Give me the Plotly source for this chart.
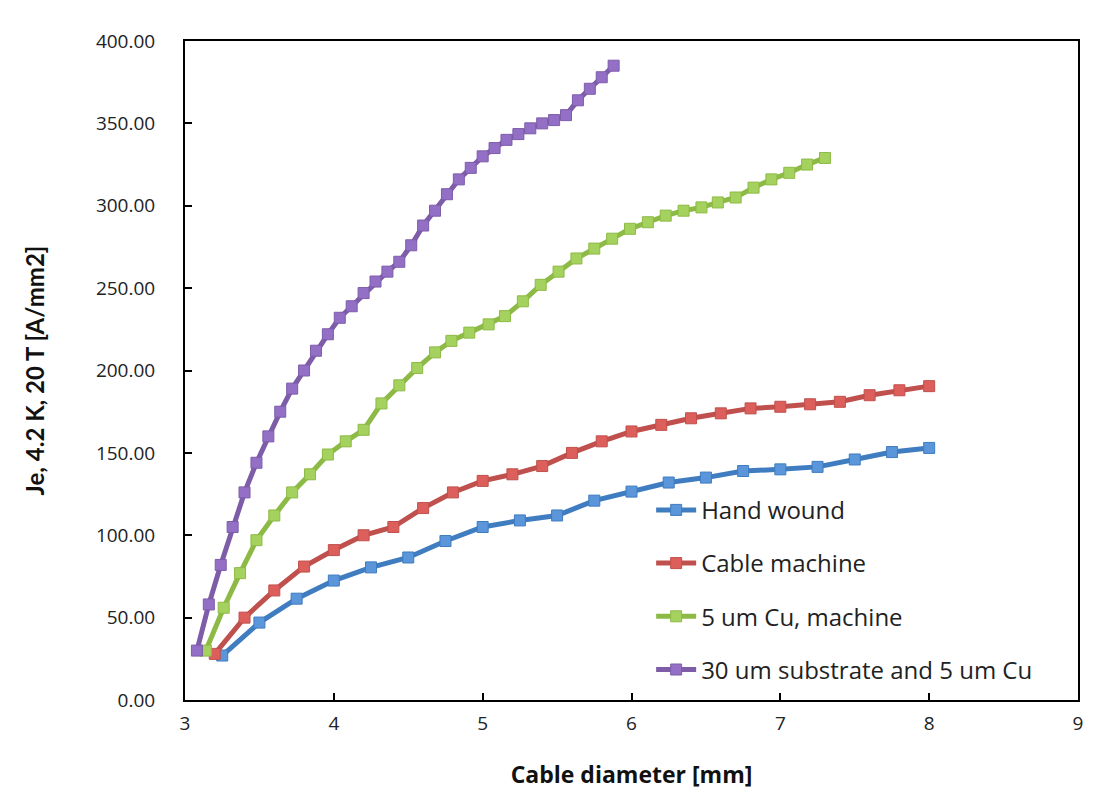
import plotly.graph_objects as go

# ---- data ----
hand_x = [3.25, 3.50, 3.75, 4.00, 4.25, 4.50, 4.75, 5.00, 5.25, 5.50,
          5.75, 6.00, 6.25, 6.50, 6.75, 7.00, 7.25, 7.50, 7.75, 8.00]
hand_y = [27, 47, 61.5, 72.5, 80.5, 86.5, 96.5, 105, 109, 112,
          121, 126.5, 132, 135, 139, 140, 141.5, 146, 150.5, 153]

cable_x = [3.2, 3.4, 3.6, 3.8, 4.0, 4.2, 4.4, 4.6, 4.8, 5.0, 5.2, 5.4, 5.6,
           5.8, 6.0, 6.2, 6.4, 6.6, 6.8, 7.0, 7.2, 7.4, 7.6, 7.8, 8.0]
cable_y = [28, 50, 66.5, 81, 91, 100, 105, 116.5, 126, 133, 137, 142, 150,
           157, 163, 167, 171, 174, 177, 178, 179.5, 181, 185, 188, 190.5]

cu_x = [3.14, 3.26, 3.37, 3.48, 3.60, 3.72, 3.84, 3.96, 4.08, 4.20, 4.32, 4.44,
        4.56, 4.68, 4.79, 4.91, 5.04, 5.15, 5.27, 5.39, 5.51, 5.63, 5.75, 5.87,
        5.99, 6.11, 6.23, 6.35, 6.47, 6.58, 6.70, 6.82, 6.94, 7.06, 7.18, 7.30]
cu_y = [30, 56, 77, 97, 112, 126, 137, 149, 157, 164, 180, 191,
        201.5, 211, 218, 223, 228, 233, 242, 252, 260, 268, 274, 280,
        286, 290, 294, 297, 299, 302, 305, 311, 316, 320, 325, 329]

sub_x = [3.08, 3.16, 3.24, 3.32, 3.40, 3.48, 3.56, 3.64, 3.72, 3.80, 3.88, 3.96,
         4.04, 4.12, 4.20, 4.28, 4.36, 4.44, 4.52, 4.60, 4.68, 4.76, 4.84, 4.92,
         5.00, 5.08, 5.16, 5.24, 5.32, 5.40, 5.48, 5.56, 5.64, 5.72, 5.80, 5.88]
sub_y = [30, 58, 82, 105, 126, 144, 160, 175, 189, 200, 212, 222,
         232, 239, 247, 254, 260, 266, 276, 288, 297, 307, 316, 323,
         330, 335, 340, 343.5, 347, 350, 352, 355, 364, 371, 378, 385]

series = [
    ("Hand wound", hand_x, hand_y, "#3F7CC0", "#5B95DA"),
    ("Cable machine", cable_x, cable_y, "#C0504D", "#DC5F5B"),
    ("5 um Cu, machine", cu_x, cu_y, "#8DBA45", "#A5D15E"),
    ("30 um substrate and 5 um Cu", sub_x, sub_y, "#7D5CA8", "#9370C6"),
]

y_ticks = [0, 50, 100, 150, 200, 250, 300, 350, 400]
x_ticks = [3, 4, 5, 6, 7, 8, 9]

fig = go.Figure()
for name, xs, ys, lc, mc in series:
    fig.add_trace(go.Scatter(
        x=xs, y=ys, name=name, mode="lines+markers", legendgroup=name,
        line=dict(color=lc, width=5),
        marker=dict(symbol="square", size=11, color=mc,
                    line=dict(color=lc, width=1)),
    ))

axis_font = dict(family="Open Sans, Lato, sans-serif", size=19, color="#222222")

fig.update_layout(
    width=1101, height=805,
    margin=dict(l=185, r=23, t=41, b=105),
    paper_bgcolor="white", plot_bgcolor="white",
    showlegend=True,
    legend=dict(
        x=0.522, y=0.322, xanchor="left", yanchor="top",
        bgcolor="rgba(0,0,0,0)",
        font=dict(family="Open Sans, Lato, sans-serif", size=24, color="#222222"),
        tracegroupgap=19, itemwidth=40,
    ),
    xaxis=dict(
        range=[3, 9], tickvals=x_ticks, ticktext=[str(v) for v in x_ticks],
        ticks="inside", ticklen=7, tickwidth=2, tickcolor="black",
        showline=True, linecolor="black", linewidth=2, mirror=True,
        showgrid=False, zeroline=False, tickfont=axis_font,
        ticklabelstandoff=5,
        title=dict(text="<b>Cable diameter [mm]</b>",
                   font=dict(family="Open Sans, sans-serif", size=23, color="#111111"),
                   standoff=32),
    ),
    yaxis=dict(
        range=[0, 400], tickvals=y_ticks, tickformat=".2f",
        ticks="inside", ticklen=7, tickwidth=2, tickcolor="black",
        showline=True, linecolor="black", linewidth=2, mirror=True,
        showgrid=False, zeroline=False, tickfont=axis_font,
        ticklabelstandoff=24,
        title=dict(text="<b>Je, 4.2 K, 20 T [A/mm2]</b>",
                   font=dict(family="Lato, Open Sans, sans-serif", size=24, color="#111111"),
                   standoff=44),
    ),
)

fig.write_html("out.html")
